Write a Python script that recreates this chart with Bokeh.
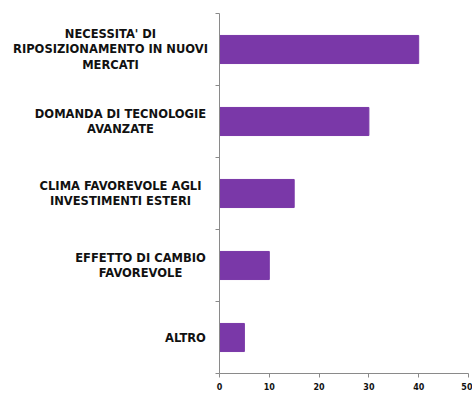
from bokeh.plotting import figure
from bokeh.models import Range1d, FixedTicker, LinearAxis
from bokeh.layouts import row
from bokeh.core.properties import value
from bokeh.embed import file_html
from bokeh.resources import INLINE

categories = [
    "NECESSITA' DI\nRIPOSIZIONAMENTO IN NUOVI\nMERCATI",
    "DOMANDA DI TECNOLOGIE\nAVANZATE",
    "CLIMA FAVOREVOLE AGLI\nINVESTIMENTI ESTERI",
    "EFFETTO DI CAMBIO\nFAVOREVOLE",
    "ALTRO",
]
values = [40, 30, 15, 10, 5]
x_ticks = [0, 10, 20, 30, 40, 50]

# horizontal centres (px) of the category label blocks in the label panel (layout only)
label_cx = [110, 120, 120, 140, 185]

n = len(categories)
ypos = [n - i - 0.5 for i in range(n)]
yr = Range1d(0, n)
LW = 211

lab = figure(width=LW, height=396, output_backend="svg", toolbar_location=None,
             x_range=Range1d(0, LW), y_range=yr,
             min_border_left=0, min_border_right=0, min_border_top=13, min_border_bottom=23,
             x_axis_location=None, y_axis_location=None)
lab.outline_line_color = None
lab.grid.visible = False
lab.text(x=label_cx, y=ypos, text=categories, text_align="center", text_baseline="middle",
         text_font=value("DejaVu Sans"), text_font_style="bold", text_font_size="11.5px",
         text_color="#111111", text_line_height=1.12)

p = figure(width=472 - LW, height=396, output_backend="svg", toolbar_location=None,
           x_range=Range1d(0, 50), y_range=yr,
           min_border_left=8, min_border_right=4, min_border_top=13, min_border_bottom=23,
           y_axis_location=None)
p.outline_line_color = None
p.grid.visible = False

p.hbar(y=ypos, right=values, left=0, height=0.39, fill_color="#7A38A8", line_color="#7A38A8")

xa = p.xaxis[0]
xa.ticker = FixedTicker(ticks=x_ticks)
xa.axis_line_color = "#8a8a8a"
xa.major_tick_line_color = "#8a8a8a"
xa.major_tick_out = 4
xa.major_tick_in = 0
xa.minor_tick_line_color = None
xa.major_label_text_font = "DejaVu Sans"
xa.major_label_text_font_style = "bold"
xa.major_label_text_font_size = "8px"
xa.major_label_text_color = "#111111"
xa.major_label_standoff = 5

ya = LinearAxis(ticker=FixedTicker(ticks=list(range(n + 1))))
ya.axis_line_color = "#8a8a8a"
ya.major_tick_line_color = "#8a8a8a"
ya.major_tick_out = 4
ya.major_tick_in = 0
ya.minor_tick_line_color = None
ya.major_label_text_font_size = "0px"
ya.major_label_standoff = 0
p.add_layout(ya, "left")

layout = row(lab, p, spacing=0)
open("out.html", "w").write(file_html(layout, INLINE))
